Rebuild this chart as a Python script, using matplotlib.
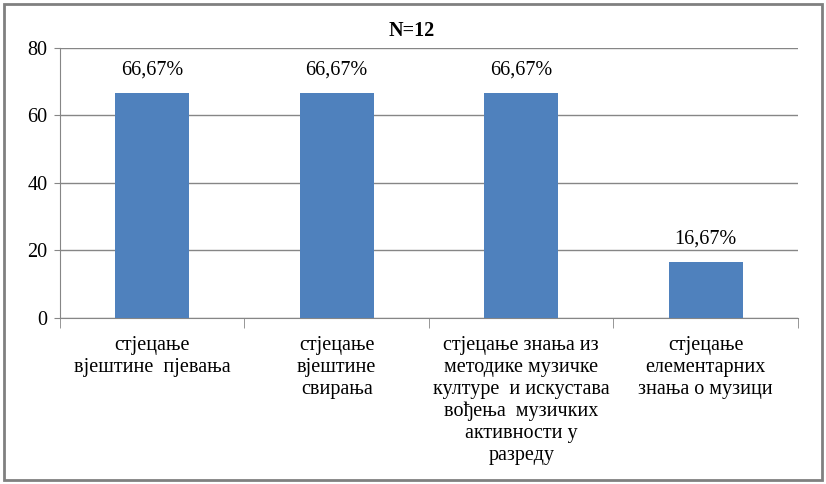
import numpy as np
import matplotlib.pyplot as plt
from matplotlib.patches import Rectangle

# ----------------------------------
# Chart data
# ----------------------------------
categories = [
    "стјецање\nвјештине  пјевања",
    "стјецање\nвјештине\nсвирања",
    "стјецање знања из\nметодике музичке\nкултуре  и искустава\nвођења  музичких\nактивности у\nразреду",
    "стјецање\nелементарних\nзнања о музици",
]
values = [66.67, 66.67, 66.67, 16.67]
value_labels = ["66,67%", "66,67%", "66,67%", "16,67%"]
y_ticks = [0, 20, 40, 60, 80]
title = "N=12"

BAR_COLOR = "#4F81BD"
GRID_COLOR = "#868686"
FS = 14.5

plt.rcParams['font.family'] = ['Liberation Serif', 'DejaVu Serif']

fig = plt.figure(figsize=(8.26, 4.84), dpi=100)
ax = fig.add_axes([0.0726, 0.343, 0.8935, 0.558])

x = np.arange(len(categories))
ax.bar(x, values, width=0.4, color=BAR_COLOR, zorder=3)

for xi, v, lab in zip(x, values, value_labels):
    ax.text(xi, v + 4.0, lab, ha='center', va='bottom', fontsize=FS)

ax.set_xlim(-0.5, len(categories) - 0.5)
ax.set_ylim(0, 80)
ax.set_yticks(y_ticks)
ax.tick_params(axis='y', labelsize=FS, length=4, color=GRID_COLOR, pad=5)

ax.set_xticks(x)
ax.set_xticklabels(categories, fontsize=FS, linespacing=1.2, va='top')
ax.tick_params(axis='x', which='major', length=0, pad=13)
ax.set_xticks(np.arange(-0.5, len(categories)), minor=True)
ax.tick_params(axis='x', which='minor', length=7, color=GRID_COLOR)

ax.grid(axis='y', color=GRID_COLOR, linewidth=1, zorder=0)
for side in ['top', 'right']:
    ax.spines[side].set_visible(False)
for side in ['left', 'bottom']:
    ax.spines[side].set_color(GRID_COLOR)

fig.text(0.499, 0.936, title, ha='center', va='center', fontsize=FS, fontweight='bold')

# chart border
fig.patches.append(Rectangle((0.005, 0.008), 0.99, 0.984, transform=fig.transFigure,
                             fill=False, edgecolor='#808080', linewidth=2))

fig.savefig("out.png", dpi=100)
